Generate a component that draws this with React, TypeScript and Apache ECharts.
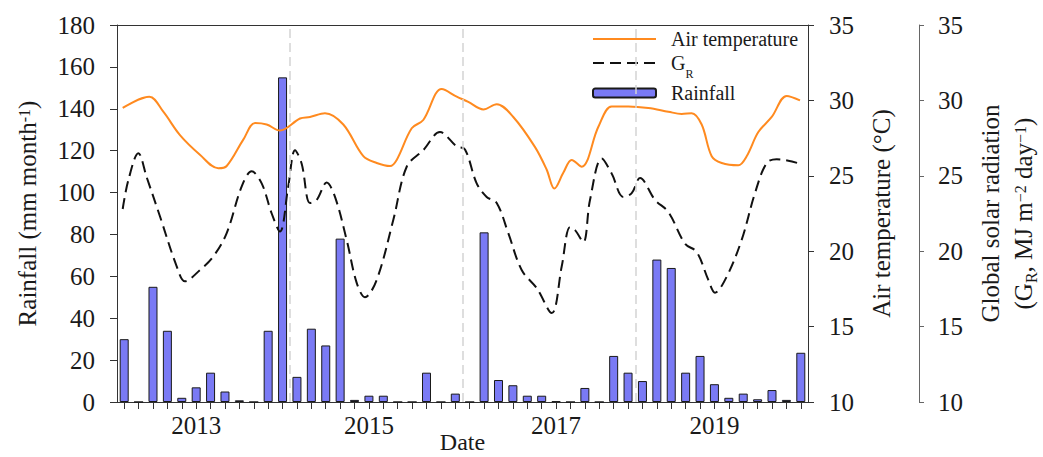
import React, { useEffect, useRef } from 'react';
import * as echarts from 'echarts';

// ---- categories (bimonthly periods) ----
const years = [2012, 2013, 2014, 2015, 2016, 2017, 2018, 2019];
const months = ['01', '03', '05', '07', '09', '11'];
const periods = years.flatMap((y) => months.map((m) => `${y}-${m}`));

// ---- x tick labels ----
const yearLabels = ['2013', '2015', '2017', '2019'];
const yearLabelIdx = [5, 17, 30, 41];

// ---- rainfall (mm month-1), one per bimonthly period ----
const rainfall = [
  30, 0, 55, 34, 2, 7, 14, 5, 0.8, 0, 34, 155,
  12, 35, 27, 78, 1, 3, 3, 0, 0, 14, 0, 4,
  0, 81, 10.5, 8, 3, 3, 0.3, 0, 6.7, 0, 22, 14,
  10, 68, 64, 14, 22, 8.5, 2, 4, 1.3, 5.7, 1, 23.5,
];

// ---- air temperature (°C) [decimal year, value] ----
const airTemp = [
  [2012.066, 29.5], [2012.374, 30.25], [2012.536, 29.25], [2012.729, 27.7], [2012.96, 26.4],
  [2013.173, 25.5], [2013.27, 25.65], [2013.462, 27.4], [2013.598, 28.5], [2013.733, 28.4],
  [2013.887, 28.0], [2014.119, 28.8], [2014.234, 28.9], [2014.408, 29.15], [2014.62, 28.4],
  [2014.852, 26.3], [2015.007, 25.85], [2015.161, 25.65], [2015.238, 26.05], [2015.412, 28.15],
  [2015.546, 28.7], [2015.759, 30.75], [2015.933, 30.25], [2016.067, 29.9], [2016.241, 29.4],
  [2016.396, 29.75], [2016.588, 28.9], [2016.84, 26.9], [2016.975, 25.4], [2017.063, 24.15],
  [2017.167, 25.2], [2017.264, 26.05], [2017.38, 25.6], [2017.573, 28.25], [2017.727, 29.6],
  [2017.92, 29.6], [2018.151, 29.5], [2018.383, 29.25], [2018.537, 29.1], [2018.653, 29.15],
  [2018.769, 28.4], [2018.885, 26.3], [2019.001, 25.85], [2019.193, 25.7], [2019.29, 26.3],
  [2019.425, 27.9], [2019.58, 28.9], [2019.753, 30.3], [2019.907, 30.0],
];

// ---- global solar radiation GR (MJ m-2 day-1) [decimal year, value] ----
const solarGR = [
  [2012.066, 22.8], [2012.131, 24.7], [2012.247, 26.5], [2012.344, 24.9], [2012.498, 22.3],
  [2012.691, 19.0], [2012.787, 18.0], [2012.96, 18.75], [2013.115, 19.65], [2013.27, 21.2],
  [2013.444, 24.3], [2013.559, 25.3], [2013.675, 24.5], [2013.791, 22.5], [2013.887, 21.3],
  [2013.983, 24.3], [2014.061, 26.7], [2014.138, 25.8], [2014.234, 23.2], [2014.312, 23.4],
  [2014.427, 24.55], [2014.524, 23.6], [2014.659, 20.75], [2014.775, 17.9], [2014.871, 16.95],
  [2015.007, 18.1], [2015.2, 22.1], [2015.354, 25.6], [2015.546, 26.7], [2015.739, 27.9],
  [2015.933, 26.95], [2016.029, 26.75], [2016.164, 24.5], [2016.28, 23.6], [2016.396, 23.2],
  [2016.53, 21.2], [2016.685, 18.75], [2016.859, 17.55], [2017.033, 15.9], [2017.149, 19.0],
  [2017.245, 21.6], [2017.303, 21.4], [2017.399, 20.6], [2017.476, 23.4], [2017.612, 26.15],
  [2017.727, 25.15], [2017.862, 23.6], [2017.959, 23.85], [2018.055, 24.85], [2018.229, 23.4],
  [2018.383, 22.6], [2018.576, 20.5], [2018.711, 19.95], [2018.846, 18.1], [2018.923, 17.25],
  [2019.058, 18.3], [2019.232, 20.75], [2019.386, 23.85], [2019.522, 25.85], [2019.637, 26.1],
  [2019.772, 26.0], [2019.907, 25.8],
];

// ---- reference year lines ----
const refYears = [2014, 2016, 2018];

const FONT = 'Liberation Serif';
const TXT = '#1a1a1a';
const AX = '#333';

export default function App() {
  const ref = useRef<HTMLDivElement>(null);

  useEffect(() => {
    const chart = echarts.init(ref.current!, null, { renderer: 'svg' });
    const hiddenSymbol = { opacity: 0, color: 'transparent', borderWidth: 0 };
    const option: any = {
      animation: false,
      backgroundColor: '#fff',
      textStyle: { fontFamily: FONT, color: TXT },
      grid: { left: 117, right: 235, top: 25, bottom: 55, containLabel: false, outerBoundsMode: 'none' },
      legend: {
        orient: 'vertical',
        left: 592,
        top: 29,
        padding: 0,
        itemWidth: 63,
        itemHeight: 9,
        itemGap: 3,
        data: [
          { name: 'Air temperature', itemStyle: hiddenSymbol },
          { name: 'GR', itemStyle: hiddenSymbol },
          { name: 'Rainfall' },
        ],
        formatter: (name: string) => (name === 'GR' ? '{g|G}{r|R}' : `{t|${name}}`),
        textStyle: {
          fontFamily: FONT,
          color: TXT,
          padding: [0, 0, 0, 10],
          rich: {
            t: { fontFamily: FONT, fontSize: 20, lineHeight: 22, color: TXT },
            g: { fontFamily: FONT, fontSize: 20, lineHeight: 22, color: TXT },
            r: { fontFamily: FONT, fontSize: 12, lineHeight: 12, color: TXT, verticalAlign: 'top', padding: [16, 0, 0, 0] },
          },
        },
      },
      xAxis: [
        {
          type: 'category',
          data: periods,
          position: 'bottom',
          boundaryGap: true,
          axisLine: { show: true, lineStyle: { color: AX, width: 1 } },
          axisTick: { show: true, alignWithLabel: true, interval: 0, length: 7, lineStyle: { color: AX } },
          axisLabel: {
            interval: 0,
            margin: 11,
            fontFamily: FONT,
            fontSize: 25,
            color: TXT,
            formatter: (_v: string, i: number) => {
              const k = yearLabelIdx.indexOf(i);
              return k >= 0 ? yearLabels[k] : '';
            },
          },
          splitLine: { show: false },
          name: 'Date',
          nameLocation: 'middle',
          nameMoveOverlap: false,
          nameGap: 30,
          nameTextStyle: { fontFamily: FONT, fontSize: 24, lineHeight: 20, color: TXT },
        },
        {
          type: 'value',
          min: 2012,
          max: 2020,
          position: 'top',
          axisLine: { show: true, lineStyle: { color: AX, width: 1 } },
          axisTick: { show: false },
          axisLabel: { show: false },
          splitLine: { show: false },
        },
      ],
      yAxis: [
        {
          type: 'value',
          min: 0,
          max: 180,
          interval: 20,
          position: 'left',
          axisLine: { show: true, lineStyle: { color: AX, width: 1 } },
          axisTick: { show: true, length: 7, lineStyle: { color: AX } },
          axisLabel: { margin: 22, fontFamily: FONT, fontSize: 25, color: TXT },
          splitLine: { show: false },
          name: 'Rainfall (mm month{sup|-1})',
          nameLocation: 'middle',
          nameRotate: 90,
          nameGap: 75,
          nameTextStyle: {
            fontFamily: FONT,
            fontSize: 25,
            lineHeight: 30,
            color: TXT,
            rich: {
              sup: { fontFamily: FONT, fontSize: 16, lineHeight: 16, verticalAlign: 'top', padding: [4, 0, 0, 0], color: TXT },
            },
          },
        },
        {
          type: 'value',
          min: 10,
          max: 35,
          interval: 5,
          position: 'right',
          axisLine: { show: true, lineStyle: { color: AX, width: 1 } },
          axisTick: { show: true, length: 6, lineStyle: { color: AX } },
          axisLabel: { margin: 21, fontFamily: FONT, fontSize: 25, color: TXT },
          splitLine: { show: false },
          name: 'Air temperature (°C)',
          nameLocation: 'middle',
          nameRotate: 90,
          nameGap: 58,
          nameTextStyle: { fontFamily: FONT, fontSize: 25, lineHeight: 30, color: TXT },
        },
        {
          type: 'value',
          min: 10,
          max: 35,
          interval: 5,
          position: 'right',
          offset: 111,
          axisLine: { show: true, lineStyle: { color: '#666', width: 1 } },
          axisTick: { show: true, length: 5, lineStyle: { color: '#666' } },
          axisLabel: { margin: 19, fontFamily: FONT, fontSize: 25, color: TXT },
          splitLine: { show: false },
          name: 'Global solar radiation\n(G{sub|R}, MJ m{sup|−2} day{sup|−1})',
          nameLocation: 'middle',
          nameRotate: 90,
          nameGap: 54,
          nameTextStyle: {
            fontFamily: FONT,
            fontSize: 25,
            lineHeight: 33,
            color: TXT,
            rich: {
              sup: { fontFamily: FONT, fontSize: 16, lineHeight: 16, verticalAlign: 'top', padding: [6, 0, 0, 0], color: TXT },
              sub: { fontFamily: FONT, fontSize: 16, lineHeight: 14, verticalAlign: 'bottom', color: TXT },
            },
          },
        },
      ],
      series: [
        {
          name: 'Rainfall',
          type: 'bar',
          xAxisIndex: 0,
          yAxisIndex: 0,
          data: rainfall,
          barWidth: 9,
          itemStyle: { color: '#7a7af5', borderColor: '#1a1a1a', borderWidth: 1 },
        },
        {
          name: 'Air temperature',
          type: 'line',
          xAxisIndex: 1,
          yAxisIndex: 1,
          data: airTemp,
          smooth: 0.35,
          showSymbol: false,
          symbol: 'none',
          lineStyle: { color: '#ff8a1f', width: 2 },
          itemStyle: { color: '#ff8a1f' },
          markLine: {
            silent: true,
            symbol: ['none', 'none'],
            label: { show: false },
            lineStyle: { color: '#d4d4d4', type: [9, 5], width: 1.5 },
            data: refYears.map((y) => ({ xAxis: y })),
          },
        },
        {
          name: 'GR',
          type: 'line',
          xAxisIndex: 1,
          yAxisIndex: 2,
          data: solarGR,
          smooth: 0.35,
          showSymbol: false,
          symbol: 'none',
          lineStyle: { color: '#111', width: 2, type: [11, 6] },
          itemStyle: { color: '#111' },
        },
      ],
    };
    chart.setOption(option);
    return () => chart.dispose();
  }, []);

  return (
    <div
      ref={ref}
      style={{ position: 'absolute', left: 0, top: 0, width: 1043, height: 457, background: '#fff' }}
    />
  );
}
